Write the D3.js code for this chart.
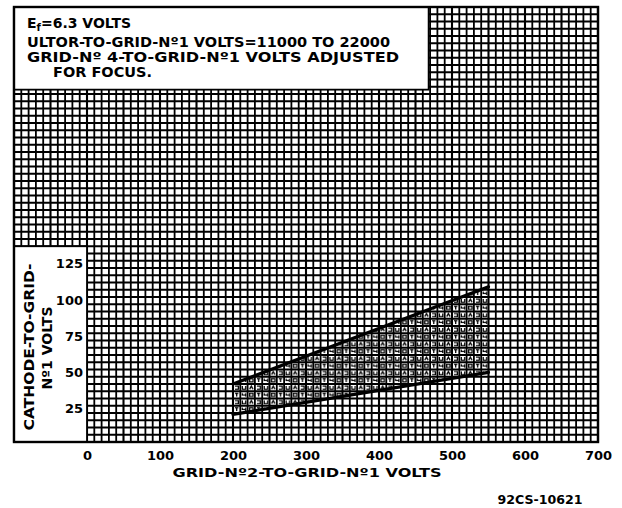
<!DOCTYPE html>
<html>
<head>
<meta charset="utf-8">
<script src="https://cdn.jsdelivr.net/npm/d3@7"></script>
<style>
  body { margin: 0; background: #fff; }
  text { font-family: "DejaVu Sans", sans-serif; font-weight: bold; fill: #000; }
</style>
</head>
<body>
<div id="chart"></div>
<script>
// Axis ticks
const xTicks = [0, 100, 200, 300, 400, 500, 600, 700];
const yTicks = [25, 50, 75, 100, 125];

// Operating region bounds (grid-No.2 volts) and the two limit lines (cathode volts)
const regionX = [200, 550];
const upperLine = [40, 107];
const lowerLine = [19, 48];

// Grid extent (graph paper)
const gridX = [-100, 700];
const gridY = [0, 300];

const notes = [
    'ULTOR-TO-GRID-Nº1 VOLTS=11000 TO 22000',
    'GRID-Nº 4-TO-GRID-Nº1 VOLTS ADJUSTED',
    'FOR FOCUS.'
];

const W = 622, H = 508;

const svg = d3.select('#chart')
    .append('svg')
    .attr('width', W)
    .attr('height', H)
    .style('background', '#fff');

const x = d3.scaleLinear().domain(gridX).range([14, 598]);
const y = d3.scaleLinear().domain(gridY).range([442, 7]);

// stipple pattern for the shaded area (little hand-drawn looking marks)
const cw = x(10) - x(0), ch = y(0) - y(5);
const defs = svg.append('defs');
const pat = defs.append('pattern')
    .attr('id', 'stip')
    .attr('patternUnits', 'userSpaceOnUse')
    .attr('x', x(gridX[0]))
    .attr('y', y(gridY[1]))
    .attr('width', cw * 3)
    .attr('height', ch * 2);
const glyphs = [
    'M2,2H5.4V5.2H2',
    'M2,2V5.2H5.4V2',
    'M2,5.2L3.7,2L5.4,5.2',
    'M2,2H5.4M3.7,2V5.2',
    'M2,2V3.7H5.4M5.4,2V5.2',
    'M2,2H5.4V5.2H2Z'
];
glyphs.forEach((g, i) => {
    pat.append('path')
        .attr('d', g)
        .attr('transform', 'translate(' + (i % 3) * cw + ',' + Math.floor(i / 3) * ch + ')')
        .attr('fill', 'none')
        .attr('stroke', '#000')
        .attr('stroke-width', 1.3);
});

// shaded region
const region = [
    [regionX[0], lowerLine[0]],
    [regionX[0], upperLine[0]],
    [regionX[1], upperLine[1]],
    [regionX[1], lowerLine[1]]
];
svg.append('path')
    .attr('d', d3.line().x(d => x(d[0])).y(d => y(d[1]))(region) + 'Z')
    .attr('fill', 'url(#stip)');

// grid lines
const grid = svg.append('g').attr('stroke', '#000');
grid.selectAll('.vl')
    .data(d3.range(gridX[0], gridX[1] + 1, 10))
    .enter().append('line')
    .attr('x1', d => x(d)).attr('x2', d => x(d))
    .attr('y1', y(gridY[0])).attr('y2', y(gridY[1]))
    .attr('stroke-width', d => d % 50 === 0 ? 2.1 : 1.8);
grid.selectAll('.hl')
    .data(d3.range(gridY[0], gridY[1] + 1, 5))
    .enter().append('line')
    .attr('y1', d => y(d)).attr('y2', d => y(d))
    .attr('x1', x(gridX[0])).attr('x2', x(gridX[1]))
    .attr('stroke-width', d => d % 25 === 0 ? 2.1 : 1.8);

// limit lines
[upperLine, lowerLine].forEach(l => {
    svg.append('line')
        .attr('x1', x(regionX[0])).attr('y1', y(l[0]))
        .attr('x2', x(regionX[1])).attr('y2', y(l[1]))
        .attr('stroke', '#000')
        .attr('stroke-width', 3.2)
        .attr('stroke-linecap', 'round');
});

// white boxes for notes and y title
svg.append('rect')
    .attr('x', x(-100)).attr('y', y(300))
    .attr('width', x(468) - x(-100)).attr('height', y(243) - y(300))
    .attr('fill', '#fff').attr('stroke', '#000').attr('stroke-width', 1.8);
svg.append('rect')
    .attr('x', x(-100)).attr('y', y(135))
    .attr('width', x(0) - x(-100)).attr('height', y(0) - y(135))
    .attr('fill', '#fff').attr('stroke', '#000').attr('stroke-width', 1.8);

// outer border
svg.append('rect')
    .attr('x', x(gridX[0])).attr('y', y(gridY[1]))
    .attr('width', x(gridX[1]) - x(gridX[0]))
    .attr('height', y(gridY[0]) - y(gridY[1]))
    .attr('fill', 'none').attr('stroke', '#000').attr('stroke-width', 2.4);

// axes
const xAxis = svg.append('g')
    .attr('transform', 'translate(0,' + (y(0) + 6) + ')')
    .call(d3.axisBottom(x).tickValues(xTicks).tickSize(0).tickFormat(d3.format('d')));
xAxis.select('.domain').remove();
xAxis.selectAll('text')
    .style('font-family', '"DejaVu Sans", sans-serif')
    .style('font-weight', 'bold')
    .style('font-size', '13px')
    .attr('fill', '#000');

const yAxis = svg.append('g')
    .attr('transform', 'translate(' + (x(0) - 1) + ',3)')
    .call(d3.axisLeft(y).tickValues(yTicks).tickSize(0).tickFormat(d3.format('d')));
yAxis.select('.domain').remove();
yAxis.selectAll('text')
    .style('font-family', '"DejaVu Sans", sans-serif')
    .style('font-weight', 'bold')
    .style('font-size', '13px')
    .attr('fill', '#000');

// notes
const ef = svg.append('text')
    .attr('x', 27).attr('y', 28)
    .style('font-size', '14px');
ef.append('tspan').text('E');
ef.append('tspan').attr('dy', 3).style('font-size', '10px').text('f');
ef.append('tspan').attr('dy', -3).text('=6.3 VOLTS');

svg.selectAll('.note')
    .data(notes)
    .enter().append('text')
    .attr('x', (d, i) => i === 2 ? 53 : 27)
    .attr('y', (d, i) => 47 + i * 15)
    .attr('textLength', (d, i) => [363, 372, 99][i])
    .attr('lengthAdjust', 'spacingAndGlyphs')
    .style('font-size', '14px')
    .text(d => d);

// y title
svg.append('text')
    .attr('transform', 'translate(34,347) rotate(-90)')
    .attr('text-anchor', 'middle')
    .attr('textLength', 167)
    .attr('lengthAdjust', 'spacingAndGlyphs')
    .style('font-size', '14px')
    .text('CATHODE-TO-GRID-');
svg.append('text')
    .attr('transform', 'translate(52,348) rotate(-90)')
    .attr('text-anchor', 'middle')
    .attr('textLength', 83)
    .attr('lengthAdjust', 'spacingAndGlyphs')
    .style('font-size', '14px')
    .text('Nº1 VOLTS');

// x title
svg.append('text')
    .attr('x', 307).attr('y', 477)
    .attr('text-anchor', 'middle')
    .attr('textLength', 269)
    .attr('lengthAdjust', 'spacingAndGlyphs')
    .style('font-size', '13px')
    .text('GRID-Nº2-TO-GRID-Nº1 VOLTS');

svg.append('text')
    .attr('x', 540).attr('y', 504)
    .attr('text-anchor', 'middle')
    .attr('textLength', 85)
    .attr('lengthAdjust', 'spacingAndGlyphs')
    .style('font-size', '12px')
    .text('92CS-10621');
</script>
</body>
</html>
